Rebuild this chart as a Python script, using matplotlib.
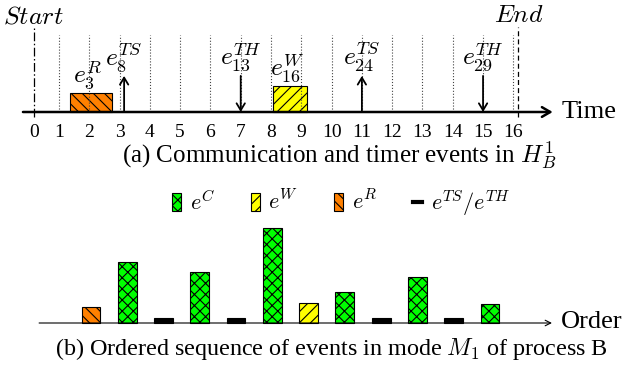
import matplotlib
matplotlib.use('Agg')
import matplotlib.pyplot as plt
from matplotlib.patches import Patch, Rectangle
from matplotlib.lines import Line2D

plt.rcParams['font.family'] = ['Liberation Serif', 'DejaVu Serif']
plt.rcParams['mathtext.fontset'] = 'cm'
plt.rcParams['hatch.linewidth'] = 0.8

ORANGE = '#ff8000'
GREEN = '#00ff00'
YELLOW = '#ffff00'

# ---- (a) timeline of H_B^1
tick_labels = [str(i) for i in range(17)]
tick_pos = [0.17] + list(range(1, 17))
grid_pos = list(range(1, 17))
start_t = 0.17
end_t = 16.15

comm_names = ['$e_3^R$', '$e_{16}^W$']
comm_start = [1.36, 8.07]
comm_end = [2.75, 9.19]
comm_height = [2.0, 2.75]
comm_color = [ORANGE, YELLOW]
comm_hatch = ['\\\\\\', '///']

timer_names = ['$e_8^{TS}$', '$e_{13}^{TH}$', '$e_{24}^{TS}$', '$e_{29}^{TH}$']
timer_t = [3.15, 7.0, 11.0, 15.0]
timer_kind = ['TS', 'TH', 'TS', 'TH']
timer_len = 3.8

# ---- (b) ordered sequence of events in mode M_1
order_kind = ['R', 'C', 'TS', 'C', 'TH', 'C', 'W', 'C', 'TS', 'C', 'TH', 'C']
order_val = [3.2, 12.2, 1, 10.2, 1, 19, 4, 6.2, 1, 9.2, 1, 3.8]
kind_color = {'R': ORANGE, 'C': GREEN, 'W': YELLOW, 'TS': 'black', 'TH': 'black'}
kind_hatch = {'R': '\\\\\\', 'C': 'xxx', 'W': '///', 'TS': None, 'TH': None}

W, H = 623, 366
fig = plt.figure(figsize=(W / 100, H / 100), dpi=100)


def px_axes(top, bottom):
    return fig.add_axes([0, 1 - bottom / H, 1, (bottom - top) / H])


# top panel: 1 time unit = 30.29 px, 1 y unit = 9.5 px, axis at px 112
ax1 = px_axes(0, 170)
ax1.set_xlim(-28.7 / 30.29, (W - 28.7) / 30.29)
ax1.set_ylim(-(170 - 112) / 9.5, 112 / 9.5)
ax1.axis('off')

ax1.vlines(grid_pos, 0, 8.1, colors='#444444', linestyles=':', lw=0.8)
ax1.plot([start_t, start_t], [-0.5, 8.9], color='black', lw=0.9, dashes=(7, 2, 1.2, 2))
ax1.plot([end_t, end_t], [-0.5, 8.9], color='black', lw=0.9, dashes=(4, 2.5))
ax1.text(start_t, 10.0, '$Start$', ha='center', va='center', fontsize=18.5)
ax1.text(end_t + 0.03, 10.1, '$End$', ha='center', va='center', fontsize=18.5)

for i in range(len(comm_names)):
    ax1.add_patch(Rectangle((comm_start[i], 0), comm_end[i] - comm_start[i], comm_height[i],
                            facecolor=comm_color[i], edgecolor='black', hatch=comm_hatch[i], lw=0.8))
    ax1.text((comm_start[i] + comm_end[i]) / 2 - 0.1, comm_height[i] + 1.85, comm_names[i],
             ha='center', va='center', fontsize=18.5)

for i in range(len(timer_names)):
    if timer_kind[i] == 'TS':
        a, b = (timer_t[i], 0), (timer_t[i], timer_len)
    else:
        a, b = (timer_t[i], timer_len), (timer_t[i], 0)
    ax1.annotate('', xy=b, xytext=a,
                 arrowprops=dict(arrowstyle='->,head_length=0.5,head_width=0.3', lw=1.3,
                                 color='black', shrinkA=0, shrinkB=0))
    ax1.text(timer_t[i], 5.75, timer_names[i], ha='center', va='center', fontsize=18.5)

ax1.annotate('', xy=(17.3, 0), xytext=(-0.19, 0),
             arrowprops=dict(arrowstyle='->,head_length=0.6,head_width=0.35', lw=1.8,
                             color='black', shrinkA=0, shrinkB=0))
ax1.text(17.6, 0.05, 'Time', ha='left', va='center', fontsize=19)
for p, lab in zip(tick_pos, tick_labels):
    ax1.text(p, -2.2, lab, ha='center', va='center', fontsize=14)

fig.text(339 / W, 1 - 164 / H, '(a) Communication and timer events in $H_B^1$',
         ha='center', va='baseline', fontsize=18)

# bottom panel: 1 slot = 36.27 px, 1 y unit = 5 px, baseline at px 323
ax2 = px_axes(170, 366)
ax2.set_xlim(-54.7 / 36.27, (W - 54.7) / 36.27)
ax2.set_ylim(-(366 - 323) / 5, (323 - 170) / 5)
ax2.axis('off')

pos = list(range(1, len(order_kind) + 1))
for p, k, v in zip(pos, order_kind, order_val):
    ax2.bar(p, v, width=0.52, color=kind_color[k], hatch=kind_hatch[k],
            edgecolor='black', lw=0.8)

ax2.annotate('', xy=(13.71, 0), xytext=(-0.43, 0),
             arrowprops=dict(arrowstyle='->', lw=0.8, color='black', shrinkA=0, shrinkB=0))
ax2.text(13.95, 0.2, 'Order', ha='left', va='center', fontsize=19)

handles = [Patch(facecolor=GREEN, edgecolor='black', hatch='xxx', lw=0.8),
           Patch(facecolor=YELLOW, edgecolor='black', hatch='///', lw=0.8),
           Patch(facecolor=ORANGE, edgecolor='black', hatch='\\\\\\', lw=0.8),
           Line2D([], [], color='black', lw=3)]
labels = ['$e^C$', '$e^W$', '$e^R$', '$e^{TS}/e^{TH}$']
ax2.legend(handles, labels, ncol=4, loc='center', bbox_to_anchor=(341 / W, 1 - 203 / H),
           bbox_transform=fig.transFigure, frameon=False, fontsize=16,
           handlelength=0.4, handleheight=0.85, columnspacing=1.6, handletextpad=0.4)

fig.text(55 / W, 1 - 355 / H, '(b) Ordered sequence of events in mode $M_1$ of process B',
         ha='left', va='baseline', fontsize=17.4)

fig.savefig('out.png', dpi=100)
